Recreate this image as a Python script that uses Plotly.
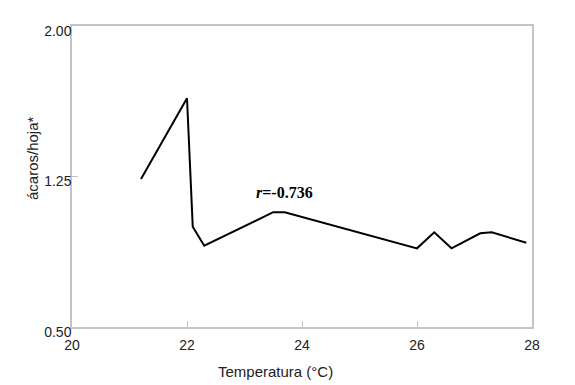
import plotly.graph_objects as go

temperatura = [21.2, 22.0, 22.1, 22.3, 23.5, 23.7, 26.0, 26.3, 26.6, 27.1, 27.3, 27.9]
acaros_hoja = [1.238, 1.64, 1.0, 0.905, 1.072, 1.072, 0.892, 0.972, 0.892, 0.967, 0.972, 0.92]
y_ticks = [0.50, 1.25, 2.00]
x_ticks = [20, 22, 24, 26, 28]

OFF = 8  # page body margin
W, H = 575 - OFF, 385 - OFF
l, r, t, b = 72 - OFF, 575 - 532, 26 - OFF, 385 - 327
pw, ph = W - l - r, H - t - b


def px(xp):
    return (xp - OFF - l) / pw


def py(yp):
    return 1 - (yp - OFF - t) / ph


fig = go.Figure()
fig.add_trace(go.Scatter(x=temperatura, y=acaros_hoja, mode="lines",
                         line=dict(color="black", width=2), showlegend=False))

axis_common = dict(showline=True, linecolor="#c4c4c4", linewidth=1.5, mirror=True,
                   showgrid=False, zeroline=False, ticks="inside", ticklen=6,
                   tickcolor="#c4c4c4", automargin=False,
                   tickfont=dict(family="Liberation Sans", size=14, color="#222"))

fig.update_layout(
    width=W, height=H,
    margin=dict(l=l, r=r, t=t, b=b),
    plot_bgcolor="white", paper_bgcolor="white",
    xaxis=dict(range=[20, 28], tickvals=x_ticks, ticktext=[str(v) for v in x_ticks],
               ticklabelstandoff=4, **axis_common),
    yaxis=dict(range=[0.5, 2.0], tickvals=y_ticks, ticktext=[f"{v:.2f}" for v in y_ticks],
               ticklabelshift=5, ticklabelstandoff=-4, **axis_common),
    annotations=[
        dict(text="<b><i>r</i>=-0.736</b>", x=23.69, y=1.168, xref="x", yref="y", showarrow=False,
             font=dict(family="Liberation Serif", size=16, color="black"),
             xanchor="center", yanchor="middle"),
        dict(text="Temperatura (°C)", x=px(275), y=py(371), xref="paper", yref="paper",
             showarrow=False, xanchor="center", yanchor="middle",
             font=dict(family="Liberation Sans", size=15, color="#222")),
        dict(text="ácaros/hoja*", x=px(32), y=py(158), xref="paper", yref="paper",
             showarrow=False, textangle=-90, xanchor="center", yanchor="middle",
             font=dict(family="Liberation Sans", size=15, color="#222")),
    ],
)
fig.write_html("out.html")
